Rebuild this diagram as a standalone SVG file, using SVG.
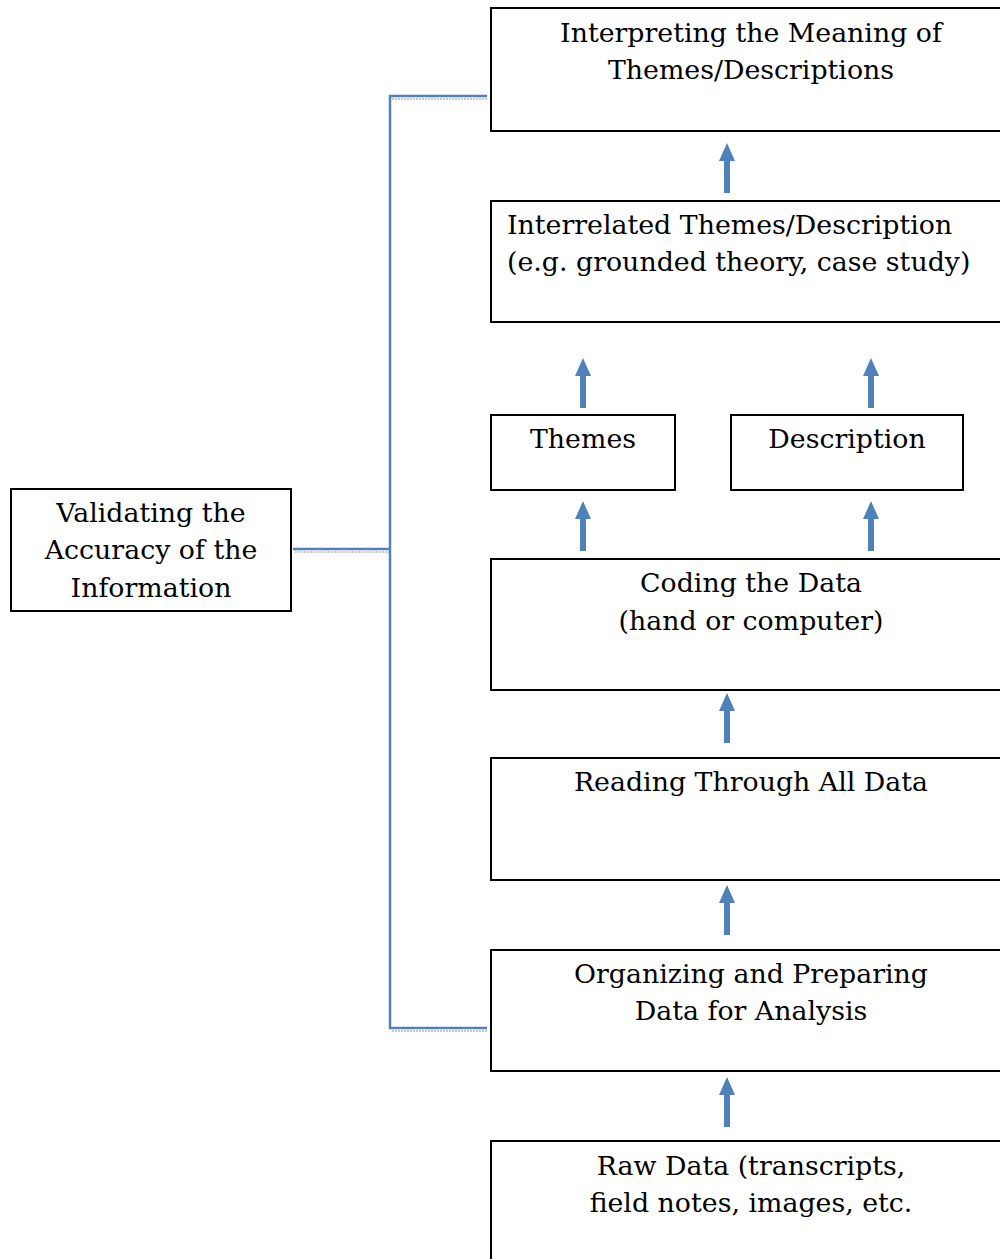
<svg xmlns="http://www.w3.org/2000/svg" width="1000" height="1259" viewBox="0 0 1000 1259">
<style>
.box{fill:#fff;stroke:#000;stroke-width:2}
text{font-family:"DejaVu Serif","Liberation Serif",serif;font-size:26.8px;fill:#000}
.c{text-anchor:middle}
.ln{fill:none;stroke:#4f81bd;stroke-width:2.5}
.sh{fill:none;stroke:#b8b8b8;stroke-width:1.5;stroke-dasharray:2 1}
.arr{fill:#4f81bd}
</style>
<defs>
<path id="up" d="M-3,50 L-3,18 L-8,18 L0,0 L8,18 L3,18 L3,50 Z"/>
</defs>
<rect width="1000" height="1259" fill="#fff"/>
<g id="connectors">
<path class="sh" d="M392,99 H487 M295,552 H390 M392,1031 H487"/>
<path class="ln" d="M487,96 H390 V1028 H487 M293,549 H390"/>
<use href="#up" class="arr" x="727" y="143"/>
<use href="#up" class="arr" x="583" y="358"/>
<use href="#up" class="arr" x="871" y="358"/>
<use href="#up" class="arr" x="583" y="501"/>
<use href="#up" class="arr" x="871" y="501"/>
<use href="#up" class="arr" x="727" y="693"/>
<use href="#up" class="arr" x="727" y="885"/>
<use href="#up" class="arr" x="727" y="1077"/>
</g>
<g id="interpreting"><rect class="box" x="491" y="8" width="530" height="123"/>
<text class="c" x="751" y="42">Interpreting the Meaning of</text><text class="c" x="751" y="79">Themes/Descriptions</text></g>
<g id="interrelated"><rect class="box" x="491" y="201" width="530" height="121"/>
<text x="507" y="234">Interrelated Themes/Description</text><text x="507" y="271">(e.g. grounded theory, case study)</text></g>
<g id="themes"><rect class="box" x="491" y="415" width="184" height="75"/>
<text class="c" x="583" y="448">Themes</text></g>
<g id="description"><rect class="box" x="731" y="415" width="232" height="75"/>
<text class="c" x="847" y="448">Description</text></g>
<g id="coding"><rect class="box" x="491" y="559" width="530" height="131"/>
<text class="c" x="751" y="592">Coding the Data</text><text class="c" x="751" y="630">(hand or computer)</text></g>
<g id="reading"><rect class="box" x="491" y="758" width="530" height="122"/>
<text class="c" x="751" y="791">Reading Through All Data</text></g>
<g id="organizing"><rect class="box" x="491" y="950" width="530" height="121"/>
<text class="c" x="751" y="983">Organizing and Preparing</text><text class="c" x="751" y="1020">Data for Analysis</text></g>
<g id="raw"><rect class="box" x="491" y="1141" width="530" height="130"/>
<text class="c" x="751" y="1175">Raw Data (transcripts,</text><text class="c" x="751" y="1212">field notes, images, etc.</text></g>
<g id="validating"><rect class="box" x="11" y="489" width="280" height="122"/>
<text class="c" x="151" y="522">Validating the</text><text class="c" x="151" y="559">Accuracy of the</text><text class="c" x="151" y="597">Information</text></g>
</svg>
